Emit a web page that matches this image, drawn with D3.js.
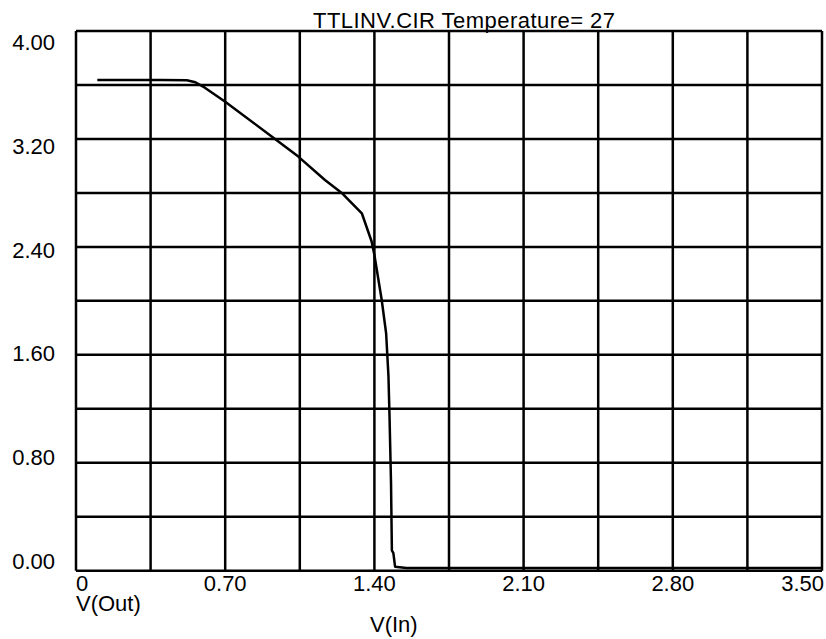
<!DOCTYPE html>
<html>
<head>
<meta charset="utf-8">
<script src="https://cdn.jsdelivr.net/npm/d3@7"></script>
<style>
  body { margin: 0; background: #fff; }
  text { font-family: "Liberation Sans", Arial, sans-serif; font-size: 22px; fill: #000; }
</style>
</head>
<body>
<svg id="chart" width="826" height="639"></svg>
<script>
// transfer curve
var vIn = [0.10, 0.20, 0.30, 0.40, 0.52, 0.56, 0.596, 0.70, 0.94, 1.043, 1.168, 1.25, 1.341, 1.387, 1.40, 1.434, 1.455, 1.466, 1.471, 1.478, 1.482, 1.489, 1.497, 1.55, 2.00, 2.50, 3.00, 3.50];
var vOut = [3.637, 3.637, 3.637, 3.637, 3.635, 3.62, 3.588, 3.476, 3.192, 3.069, 2.896, 2.795, 2.649, 2.44, 2.34, 2.01, 1.76, 1.44, 1.14, 0.65, 0.15, 0.13, 0.03, 0.02, 0.02, 0.02, 0.02, 0.02];
var xTicks = [0, 0.70, 1.40, 2.10, 2.80, 3.50];
var xTickLabels = ['0', '0.70', '1.40', '2.10', '2.80', '3.50'];
var yTicks = [0, 0.80, 1.60, 2.40, 3.20, 4.00];
var yTickLabels = ['0.00', '0.80', '1.60', '2.40', '3.20', '4.00'];
var title = 'TTLINV.CIR Temperature= 27';

var svg = d3.select('#chart');
var m = { left: 76, right: 822, top: 31, bottom: 570.7 };

var x = d3.scaleLinear().domain([0, 3.5]).range([m.left, m.right]);
var y = d3.scaleLinear().domain([0, 4]).range([m.bottom, m.top]);
// labels on the y side are spread a bit inside the frame
var yLab = d3.scaleLinear().domain([4, 0]).range([50, 569]);

// grid: 10 x 10 divisions
var grid = svg.append('g')
    .attr('stroke', '#000')
    .attr('stroke-width', 2.5);
grid.selectAll('line.v')
    .data(d3.range(0, 11).map(function (i) { return i * 0.35; }))
    .enter().append('line')
    .attr('x1', function (d) { return x(d); })
    .attr('x2', function (d) { return x(d); })
    .attr('y1', m.top)
    .attr('y2', m.bottom);
grid.selectAll('line.h')
    .data(d3.range(0, 11).map(function (i) { return i * 0.4; }))
    .enter().append('line')
    .attr('y1', function (d) { return y(d); })
    .attr('y2', function (d) { return y(d); })
    .attr('x1', m.left)
    .attr('x2', m.right);

// curve
var pts = vIn.map(function (v, i) { return [v, vOut[i]]; });
svg.append('path')
    .datum(pts)
    .attr('fill', 'none')
    .attr('stroke', '#000')
    .attr('stroke-width', 2.5)
    .attr('stroke-linejoin', 'round')
    .attr('d', d3.line()
        .x(function (d) { return x(d[0]); })
        .y(function (d) { return y(d[1]); }));

// y labels
svg.selectAll('text.y')
    .data(yTicks)
    .enter().append('text')
    .attr('x', 55)
    .attr('y', function (d) { return yLab(d); })
    .attr('text-anchor', 'end')
    .text(function (d, i) { return yTickLabels[i]; });

// x labels
svg.selectAll('text.x')
    .data(xTicks)
    .enter().append('text')
    .attr('x', function (d, i) {
        if (i === xTicks.length - 1) return x(d) + 2;
        return x(d);
    })
    .attr('y', 591)
    .attr('text-anchor', function (d, i) {
        if (i === 0) return 'start';
        if (i === xTicks.length - 1) return 'end';
        return 'middle';
    })
    .text(function (d, i) { return xTickLabels[i]; });

svg.append('text').attr('x', 76).attr('y', 611).text('V(Out)');
svg.append('text').attr('x', 370).attr('y', 632).text('V(In)');
svg.append('text').attr('x', 313).attr('y', 28)
    .attr('textLength', 302).attr('lengthAdjust', 'spacing')
    .text(title);
</script>
</body>
</html>
